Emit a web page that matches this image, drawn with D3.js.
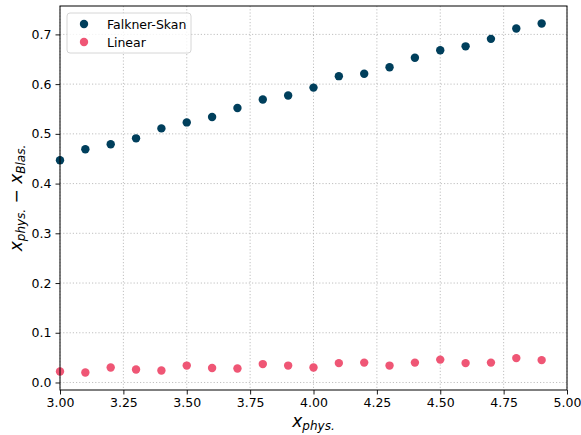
<!DOCTYPE html>
<html>
<head>
<meta charset="utf-8">
<script src="https://cdn.jsdelivr.net/npm/d3@7"></script>
<style>
  body { margin: 0; background: #fff; }
  svg { font-family: "DejaVu Sans", sans-serif; }
  .tick text { font-size: 12.5px; fill: #000; }
  .grid line { stroke: #b0b0b0; stroke-dasharray: 1.2 2; stroke-width: 0.8; }
</style>
</head>
<body>
<svg class="chart"></svg>
<script>
let xVals = [3.0, 3.1, 3.2, 3.3, 3.4, 3.5, 3.6, 3.7, 3.8, 3.9,
             4.0, 4.1, 4.2, 4.3, 4.4, 4.5, 4.6, 4.7, 4.8, 4.9];
let falknerSkan = [0.447, 0.469, 0.479, 0.491, 0.511, 0.523, 0.534, 0.552, 0.569, 0.577,
                   0.593, 0.616, 0.621, 0.634, 0.653, 0.668, 0.676, 0.691, 0.712, 0.722];
let linear = [0.022, 0.020, 0.030, 0.026, 0.024, 0.034, 0.029, 0.028, 0.037, 0.034,
              0.030, 0.039, 0.040, 0.034, 0.040, 0.046, 0.039, 0.040, 0.049, 0.045];
let xTicks = [3.0, 3.25, 3.5, 3.75, 4.0, 4.25, 4.5, 4.75, 5.0];
let yTicks = [0.0, 0.1, 0.2, 0.3, 0.4, 0.5, 0.6, 0.7];
let seriesNames = ['Falkner-Skan', 'Linear'];
let colors = ['#003f5c', '#ef5675'];

let margin = { top: 6, right: 14, bottom: 45, left: 60 };
let width = 581 - margin.left - margin.right;
let height = 435 - margin.top - margin.bottom;

let x = d3.scaleLinear().domain([3.0, 5.0]).range([0, width]);
let y = d3.scaleLinear().domain([-0.0151, 0.7571]).range([height, 0]);

let svg = d3.select('.chart')
    .attr('width', 581)
    .attr('height', 435);

let chart = svg.append('g')
    .attr('transform', `translate(${margin.left},${margin.top})`);

// grid
chart.append('g')
    .attr('class', 'grid')
    .selectAll('line.v')
    .data(xTicks)
  .enter().append('line')
    .attr('x1', d => x(d)).attr('x2', d => x(d))
    .attr('y1', 0).attr('y2', height);

chart.append('g')
    .attr('class', 'grid')
    .selectAll('line.h')
    .data(yTicks)
  .enter().append('line')
    .attr('y1', d => y(d)).attr('y2', d => y(d))
    .attr('x1', 0).attr('x2', width);

// points
let series = [falknerSkan, linear];
series.forEach((vals, i) => {
  chart.append('g')
    .selectAll('circle')
    .data(vals)
  .enter().append('circle')
    .attr('cx', (d, j) => x(xVals[j]))
    .attr('cy', d => y(d))
    .attr('r', 4.2)
    .attr('fill', colors[i]);
});

// axes
let xAxis = d3.axisBottom(x)
    .tickValues(xTicks)
    .tickFormat(d3.format('.2f'))
    .tickSizeOuter(0)
    .tickSize(4.5)
    .tickPadding(4);

let yAxis = d3.axisLeft(y)
    .tickValues(yTicks)
    .tickFormat(d3.format('.1f'))
    .tickSizeOuter(0)
    .tickSize(4.5)
    .tickPadding(4);

chart.append('g')
    .attr('transform', `translate(0,${height})`)
    .call(xAxis);

chart.append('g')
    .call(yAxis);

chart.selectAll('.domain').remove();
chart.selectAll('.tick line').attr('stroke', '#000').attr('stroke-width', 0.9);
chart.selectAll('.tick text').attr('font-family', 'DejaVu Sans');

chart.append('rect')
    .attr('width', width)
    .attr('height', height)
    .attr('fill', 'none')
    .attr('stroke', '#000')
    .attr('stroke-width', 1);

// axis labels
let xl = svg.append('text')
    .attr('x', margin.left + width / 2)
    .attr('y', 427)
    .attr('text-anchor', 'middle')
    .attr('font-size', 17);
xl.append('tspan').attr('font-style', 'italic').text('x');
xl.append('tspan').attr('font-style', 'italic').attr('font-size', 12)
    .attr('dy', 3).text('phys.');

let yl = svg.append('text')
    .attr('transform', `translate(22,${margin.top + height / 2}) rotate(-90)`)
    .attr('text-anchor', 'middle')
    .attr('font-size', 17);
yl.append('tspan').attr('font-style', 'italic').text('x');
yl.append('tspan').attr('font-style', 'italic').attr('font-size', 12)
    .attr('dy', 3).text('phys.');
yl.append('tspan').attr('dy', -3).text(' \u2212 ');
yl.append('tspan').attr('font-style', 'italic').text('x');
yl.append('tspan').attr('font-style', 'italic').attr('font-size', 12)
    .attr('dy', 3).text('Blas.');

// legend
let legend = chart.append('g')
    .attr('transform', 'translate(7,7)');

legend.append('rect')
    .attr('width', 124)
    .attr('height', 40)
    .attr('rx', 3)
    .attr('fill', '#fff')
    .attr('fill-opacity', 0.8)
    .attr('stroke', '#cccccc')
    .attr('stroke-width', 0.8);

seriesNames.forEach((name, i) => {
  let row = legend.append('g')
    .attr('transform', `translate(0,${11 + i * 18})`);
  row.append('circle')
    .attr('cx', 17)
    .attr('cy', 0)
    .attr('r', 4.2)
    .attr('fill', colors[i]);
  row.append('text')
    .attr('x', 40)
    .attr('y', 4.5)
    .attr('font-size', 12.5)
    .text(name);
});
</script>
</body>
</html>
